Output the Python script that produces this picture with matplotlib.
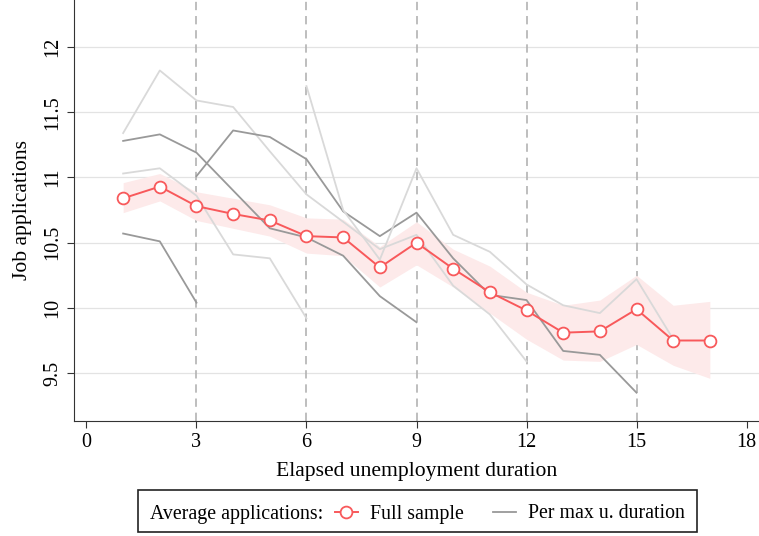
import matplotlib
matplotlib.use("Agg")
import matplotlib.pyplot as plt
from matplotlib.lines import Line2D
from matplotlib.patches import Rectangle

plt.rcParams['font.family'] = ['Liberation Serif', 'DejaVu Serif']

# full sample average with confidence band
months = list(range(1, 18))
full_avg = [10.84, 10.93, 10.78, 10.72, 10.67, 10.55, 10.54, 10.31, 10.50,
            10.30, 10.12, 9.98, 9.81, 9.82, 9.99, 9.75, 9.75]
ci_hi = [10.96, 11.03, 10.89, 10.84, 10.79, 10.69, 10.68, 10.47, 10.66,
         10.45, 10.32, 10.12, 10.02, 10.06, 10.25, 10.02, 10.05]
ci_lo = [10.73, 10.82, 10.67, 10.61, 10.55, 10.42, 10.40, 10.16, 10.33,
         10.16, 9.96, 9.76, 9.60, 9.59, 9.72, 9.56, 9.46]

# averages per max unemployment duration (x, y, shade)
g3_x = [1, 2, 3]
g3_y = [10.57, 10.51, 10.04]
g6_x = [1, 2, 3, 4, 5, 6]
g6_y = [11.03, 11.07, 10.86, 10.41, 10.38, 9.92]
g9_x = [1, 2, 3, 4, 5, 6, 7, 8, 9]
g9_y = [11.28, 11.33, 11.19, 10.90, 10.61, 10.54, 10.40, 10.09, 9.89]
g12_x = [1, 2, 3, 4, 5, 6, 7, 8, 9, 10, 11, 12]
g12_y = [11.34, 11.82, 11.59, 11.54, 11.20, 10.87, 10.66, 10.45, 10.56,
         10.17, 9.95, 9.59]
g15_x = [3, 4, 5, 6, 7, 8, 9, 10, 11, 12, 13, 14, 15]
g15_y = [11.01, 11.36, 11.31, 11.14, 10.74, 10.55, 10.73, 10.38, 10.10,
         10.06, 9.67, 9.64, 9.35]
g18_x = [6, 7, 8, 9, 10, 11, 12, 13, 14, 15, 16]
g18_y = [11.70, 10.75, 10.37, 11.07, 10.56, 10.43, 10.18, 10.02, 9.96,
         10.22, 9.76]

groups = [(g3_x, g3_y, 'dark'), (g6_x, g6_y, 'light'), (g9_x, g9_y, 'dark'),
          (g12_x, g12_y, 'light'), (g15_x, g15_y, 'dark'), (g18_x, g18_y, 'light')]

xticks = [0, 3, 6, 9, 12, 15, 18]
yticks = [9.5, 10, 10.5, 11, 11.5, 12]
vlines = [3, 6, 9, 12, 15]

red = '#f8595b'
dark = '#999999'
light = '#d9d9d9'

fig = plt.figure(figsize=(7.59, 5.36), dpi=100)
ax = fig.add_axes([74/759, 115/536, 685/759, 421/536])

for v in yticks:
    ax.axhline(v, color='#e3e3e3', lw=0.9, zorder=0)
for v in vlines:
    ax.axvline(v, color='#b3b3b3', lw=1.2, ls=(0, (5, 3.5)), zorder=1)

ax.fill_between(months, ci_lo, ci_hi, color='#fdeaea', lw=0, zorder=2)

for gx, gy, shade in groups:
    ax.plot(gx, gy, color=dark if shade == 'dark' else light, lw=1.3, zorder=3)

ax.plot(months, full_avg, color=red, lw=1.4, marker='o', ms=8.5,
        mfc='white', mec=red, mew=1.3, zorder=4)

ax.set_xlim(-0.34, 18.34)
ax.set_ylim(9.133, 12.36)
ax.set_xticks(xticks)
ax.set_yticks(yticks)
ax.set_yticklabels(['9.5', '10', '10.5', '11', '11.5', '12'], rotation=90, va='center')
ax.tick_params(labelsize=14.5, length=5, color='#333333')
ax.spines['top'].set_visible(False)
ax.spines['right'].set_visible(False)
ax.spines['left'].set_color('#333333')
ax.spines['bottom'].set_color('#333333')
ax.set_xlabel('Elapsed unemployment duration', fontsize=15.6, labelpad=7)
ax.set_ylabel('Job applications', fontsize=15.6, labelpad=8)

# legend box
fig.patches.append(Rectangle((138/759, 4/536), 559/759, 42/536, transform=fig.transFigure,
                             fill=False, edgecolor='#222222', lw=1.2))
fig.text(150/759, 22/536, 'Average applications:', fontsize=14.3, va='center')
h_full = Line2D([], [], color=red, lw=1.4, marker='o', ms=8.5, mfc='white', mec=red, mew=1.3)
h_grp = Line2D([], [], color=dark, lw=1.3)
fig.legend([h_full, h_grp], ['Full sample', 'Per max u. duration'], ncol=2,
           loc='center left', bbox_to_anchor=(317/759, 22/536), frameon=False,
           fontsize=14.3, handlelength=1.15, columnspacing=1.5, handletextpad=0.6)

fig.savefig('out.png', dpi=100)
